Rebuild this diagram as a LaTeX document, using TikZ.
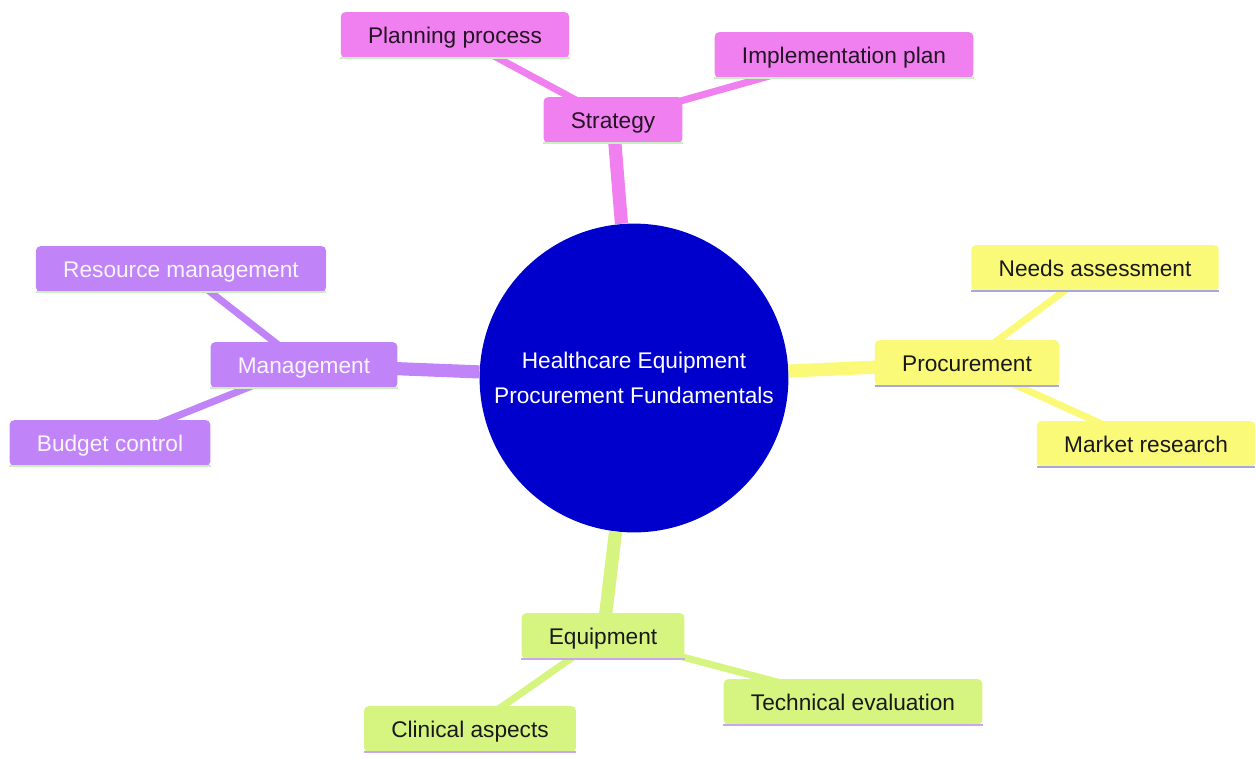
\documentclass[tikz,border=0pt]{standalone}
\usepackage{fontspec}
\setmainfont{Liberation Sans}
\usepackage{tikz}

\definecolor{strat}{HTML}{F080F0}
\definecolor{mgmt}{HTML}{C084F8}
\definecolor{proc}{HTML}{FAFA78}
\definecolor{equip}{HTML}{D6F580}
\definecolor{core}{HTML}{0000CC}
\definecolor{lgreen}{HTML}{C8F0C0}
\definecolor{lblue}{HTML}{A8A8E0}
\definecolor{lviolet}{HTML}{C8A8E8}

\begin{document}
\begin{tikzpicture}[x=0.02cm, y=-0.02cm,
    box/.style={rectangle, rounded corners=2.5pt, inner xsep=15.5pt, minimum height=26pt,
        text height=11.5pt, text depth=2pt, font=\fontsize{12.9}{15}\selectfont},
    link/.style={line width=4pt, line cap=round},
    mainlink/.style={line width=7.5pt}]
    \useasboundingbox (0,0) rectangle (1256,758);

    % centre
    \node[circle, fill=core, minimum size=310*0.567pt, inner sep=0pt, text=white,
        align=center, font=\fontsize{12.9}{20}\selectfont] (core) at (634,378)
        {Healthcare Equipment\\Procurement Fundamentals};

    % coordinates of the boxes
    \coordinate (pStrat) at (613,120);
    \coordinate (pMgmt) at (304,365);
    \coordinate (pProc) at (967,363);
    \coordinate (pEquip) at (603,636);

    % connectors
    \draw[mainlink, strat] (core) -- (pStrat);
    \draw[mainlink, mgmt] (core) -- (pMgmt);
    \draw[mainlink, proc] (core) -- (pProc);
    \draw[mainlink, equip] (core) -- (pEquip);
    \draw[link, strat] (pStrat) -- (455,35);
    \draw[link, strat] (pStrat) -- (844,55);
    \draw[link, mgmt] (pMgmt) -- (181,269);
    \draw[link, mgmt] (pMgmt) -- (110,443);
    \draw[link, proc] (pProc) -- (1095,268);
    \draw[link, proc] (pProc) -- (1146,444);
    \draw[link, equip] (pEquip) -- (470,729);
    \draw[link, equip] (pEquip) -- (853,702);

    % nodes
    \node[box, fill=strat, text=black!85!strat] (strategy) at (pStrat) {Strategy};
    \node[box, fill=strat, text=black!85!strat] (planning) at (455,35) {Planning process};
    \node[box, fill=strat, text=black!85!strat] (implement) at (844,55) {Implementation plan};

    \node[box, fill=mgmt, text=white!92!mgmt] (management) at (pMgmt) {Management};
    \node[box, fill=mgmt, text=white!92!mgmt] (resource) at (181,269) {Resource management};
    \node[box, fill=mgmt, text=white!92!mgmt] (budget) at (110,443) {Budget control};

    \node[box, fill=proc, text=black!90] (procurement) at (pProc) {Procurement};
    \node[box, fill=proc, text=black!90] (needs) at (1095,268) {Needs assessment};
    \node[box, fill=proc, text=black!90] (market) at (1146,444) {Market research};

    \node[box, fill=equip, text=black!90] (equipment) at (pEquip) {Equipment};
    \node[box, fill=equip, text=black!90] (clinical) at (470,729) {Clinical aspects};
    \node[box, fill=equip, text=black!90] (technical) at (853,702) {Technical evaluation};

    % bottom lines
    \foreach \n/\c in {strategy/lgreen, planning/lgreen, implement/lgreen,
        management/lgreen, resource/lgreen, budget/lgreen,
        procurement/lblue, needs/lblue, market/lblue,
        equipment/lviolet, clinical/lviolet, technical/lviolet}
        \draw[\c, line width=1.3pt] (\n.south west) -- (\n.south east);
\end{tikzpicture}
\end{document}
